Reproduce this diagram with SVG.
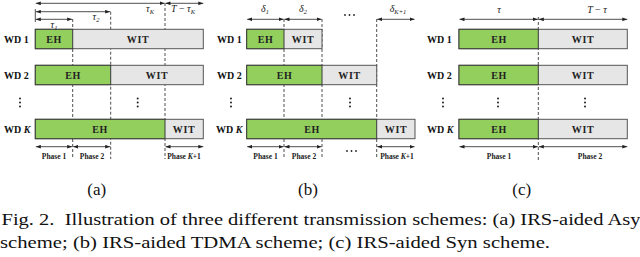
<svg xmlns="http://www.w3.org/2000/svg" width="640" height="257" viewBox="0 0 640 257">
<style>
.eh{fill:#92CF5C;stroke:#3a3a3a;stroke-width:1}
.wit{fill:#E6E6E6;stroke:#555;stroke-width:1}
.bt{font-family:"Liberation Serif",serif;font-weight:bold;font-size:10px;fill:#222;text-anchor:middle;letter-spacing:0.6px}
.wd{font-family:"Liberation Serif",serif;font-weight:bold;font-size:10px;fill:#111}
.ph{font-family:"Liberation Serif",serif;font-weight:bold;font-size:7.5px;fill:#222;text-anchor:middle}
.m{font-family:"Liberation Serif",serif;font-style:italic;font-size:10px;fill:#222;text-anchor:middle}
.sub{font-family:"Liberation Serif",serif;font-size:17px;fill:#111;text-anchor:middle}
.cap{font-family:"Liberation Serif",serif;font-size:17px;fill:#111}
.ar{stroke:#222;stroke-width:0.8;fill:none;marker-start:url(#ah);marker-end:url(#ah)}
.dl{stroke:#222;stroke-width:0.8;stroke-dasharray:3,2;fill:none}
.tk{stroke:#222;stroke-width:0.8}
.dot{fill:#222}
</style>
<defs>
<marker id="ah" viewBox="0 0 8 6" refX="8" refY="3" markerWidth="5" markerHeight="4" orient="auto-start-reverse" markerUnits="userSpaceOnUse">
<path d="M0,0 L8,3 L0,6 z" fill="#222"/>
</marker>
</defs>

<!-- connectors: dashed guides, ticks and double arrows -->
<g id="connectors">
  <line class="dl" x1="72.7" y1="19" x2="72.7" y2="159"/>
  <line class="dl" x1="110.7" y1="11.7" x2="110.7" y2="159"/>
  <line class="dl" x1="165" y1="3" x2="165" y2="159"/>
  <line class="tk" x1="35.3" y1="9" x2="35.3" y2="22"/>
  <line class="ar" x1="35.8" y1="3.3" x2="164.5" y2="3.3"/>
  <line class="ar" x1="165.5" y1="3.3" x2="203.3" y2="3.3"/>
  <line class="ar" x1="35.8" y1="11.7" x2="110.2" y2="11.7"/>
  <line class="ar" x1="35.8" y1="19.3" x2="72.2" y2="19.3"/>
  <line class="ar" x1="35.8" y1="146.7" x2="72.2" y2="146.7"/>
  <line class="ar" x1="73.2" y1="146.7" x2="110.2" y2="146.7"/>
  <line class="ar" x1="165.5" y1="146.7" x2="203.3" y2="146.7"/>

  <line class="dl" x1="284" y1="19" x2="284" y2="159"/>
  <line class="dl" x1="322" y1="19" x2="322" y2="159"/>
  <line class="dl" x1="376.7" y1="19" x2="376.7" y2="159"/>
  <line class="ar" x1="247.2" y1="19.3" x2="283.5" y2="19.3"/>
  <line class="ar" x1="284.5" y1="19.3" x2="321.5" y2="19.3"/>
  <line class="ar" x1="377.2" y1="19.3" x2="414.5" y2="19.3"/>
  <line class="ar" x1="247.2" y1="146.7" x2="283.5" y2="146.7"/>
  <line class="ar" x1="284.5" y1="146.7" x2="321.5" y2="146.7"/>
  <line class="ar" x1="377.2" y1="146.7" x2="414.5" y2="146.7"/>

  <line class="dl" x1="538.3" y1="17" x2="538.3" y2="160" stroke="#777"/>
  <line class="ar" x1="459.5" y1="19.3" x2="537.8" y2="19.3"/>
  <line class="ar" x1="538.8" y1="19.3" x2="627.3" y2="19.3"/>
  <line class="ar" x1="459.5" y1="146.7" x2="537.8" y2="146.7"/>
  <line class="ar" x1="538.8" y1="146.7" x2="627.3" y2="146.7"/>
</g>

<!-- (a) Asy scheme -->
<g id="schemeA">
  <g id="a-wd1">
    <text class="wd" x="4" y="42.5">WD 1</text>
    <rect class="wit" x="35.3" y="29.3" width="168" height="19.4"/>
    <rect class="eh" x="35.3" y="29.3" width="37.4" height="19.4"/>
    <text class="bt" x="54" y="42.5">EH</text>
    <text class="bt" x="138" y="42.5">WIT</text>
  </g>
  <g id="a-wd2">
    <text class="wd" x="4" y="78.5">WD 2</text>
    <rect class="wit" x="35.3" y="65.3" width="168" height="19.4"/>
    <rect class="eh" x="35.3" y="65.3" width="75.4" height="19.4"/>
    <text class="bt" x="73" y="78.5">EH</text>
    <text class="bt" x="157" y="78.5">WIT</text>
  </g>
  <g id="a-wdk">
    <text class="wd" x="4" y="132.5">WD <tspan font-style="italic">K</tspan></text>
    <rect class="wit" x="35.3" y="119.3" width="168" height="19.4"/>
    <rect class="eh" x="35.3" y="119.3" width="129.7" height="19.4"/>
    <text class="bt" x="100" y="132.5">EH</text>
    <text class="bt" x="184" y="132.5">WIT</text>
  </g>
  <g id="a-dots">
    <circle class="dot" cx="20" cy="98.5" r="1"/><circle class="dot" cx="20" cy="102.5" r="1"/><circle class="dot" cx="20" cy="106.5" r="1"/>
    <circle class="dot" cx="137.7" cy="98.5" r="1"/><circle class="dot" cx="137.7" cy="102.5" r="1"/><circle class="dot" cx="137.7" cy="106.5" r="1"/>
  </g>
  <g id="a-labels">
    <text class="m" x="54" y="28">τ<tspan font-size="6.5" dy="2">1</tspan></text>
    <text class="m" x="96" y="20">τ<tspan font-size="6.5" dy="2">2</tspan></text>
    <text class="m" x="150" y="12">τ<tspan font-size="6.5" dy="2">K</tspan></text>
    <text class="m" x="183" y="12">T <tspan font-style="normal">−</tspan> τ<tspan font-size="6.5" dy="2">K</tspan></text>
    <text class="ph" x="54" y="158.5">Phase 1</text>
    <text class="ph" x="92" y="158.5">Phase 2</text>
    <text class="ph" x="184" y="158.5">Phase <tspan font-style="italic">K</tspan>+1</text>
  </g>
</g>

<!-- (b) TDMA scheme -->
<g id="schemeB">
  <g id="b-wd1">
    <text class="wd" x="217" y="42.5">WD 1</text>
    <rect class="wit" x="246.7" y="29.3" width="75.3" height="19.4"/>
    <rect class="eh" x="246.7" y="29.3" width="37.3" height="19.4"/>
    <text class="bt" x="265.5" y="42.5">EH</text>
    <text class="bt" x="303" y="42.5">WIT</text>
  </g>
  <g id="b-wd2">
    <text class="wd" x="217" y="78.5">WD 2</text>
    <rect class="wit" x="246.7" y="65.3" width="130" height="19.4"/>
    <rect class="eh" x="246.7" y="65.3" width="75.3" height="19.4"/>
    <text class="bt" x="284.5" y="78.5">EH</text>
    <text class="bt" x="349.5" y="78.5">WIT</text>
  </g>
  <g id="b-wdk">
    <text class="wd" x="216" y="132.5">WD <tspan font-style="italic">K</tspan></text>
    <rect class="wit" x="246.7" y="119.3" width="168.3" height="19.4"/>
    <rect class="eh" x="246.7" y="119.3" width="130" height="19.4"/>
    <text class="bt" x="312" y="132.5">EH</text>
    <text class="bt" x="396" y="132.5">WIT</text>
  </g>
  <g id="b-dots">
    <circle class="dot" cx="231" cy="98.5" r="1"/><circle class="dot" cx="231" cy="102.5" r="1"/><circle class="dot" cx="231" cy="106.5" r="1"/>
    <circle class="dot" cx="350" cy="98.5" r="1"/><circle class="dot" cx="350" cy="102.5" r="1"/><circle class="dot" cx="350" cy="106.5" r="1"/>
    <circle class="dot" cx="345" cy="15" r="0.9"/><circle class="dot" cx="349.5" cy="15" r="0.9"/><circle class="dot" cx="354" cy="15" r="0.9"/>
    <circle class="dot" cx="347" cy="151" r="0.9"/><circle class="dot" cx="351.5" cy="151" r="0.9"/><circle class="dot" cx="356" cy="151" r="0.9"/>
  </g>
  <g id="b-labels">
    <text class="m" x="265" y="12">δ<tspan font-size="6.5" dy="2">1</tspan></text>
    <text class="m" x="303" y="12">δ<tspan font-size="6.5" dy="2">2</tspan></text>
    <text class="m" x="398" y="12">δ<tspan font-size="6.5" dy="2">K+1</tspan></text>
    <text class="ph" x="265.5" y="158.5">Phase 1</text>
    <text class="ph" x="304" y="158.5">Phase 2</text>
    <text class="ph" x="397" y="158.5">Phase <tspan font-style="italic">K</tspan>+1</text>
  </g>
</g>

<!-- (c) Syn scheme -->
<g id="schemeC">
  <g id="c-wd1">
    <text class="wd" x="427" y="42.5">WD 1</text>
    <rect class="wit" x="459" y="29.3" width="168.3" height="19.4"/>
    <rect class="eh" x="459" y="29.3" width="79.3" height="19.4"/>
    <text class="bt" x="499" y="42.5">EH</text>
    <text class="bt" x="583" y="42.5">WIT</text>
  </g>
  <g id="c-wd2">
    <text class="wd" x="427" y="78.5">WD 2</text>
    <rect class="wit" x="459" y="65.3" width="168.3" height="19.4"/>
    <rect class="eh" x="459" y="65.3" width="79.3" height="19.4"/>
    <text class="bt" x="499" y="78.5">EH</text>
    <text class="bt" x="583" y="78.5">WIT</text>
  </g>
  <g id="c-wdk">
    <text class="wd" x="427" y="132.5">WD <tspan font-style="italic">K</tspan></text>
    <rect class="wit" x="459" y="119.3" width="168.3" height="19.4"/>
    <rect class="eh" x="459" y="119.3" width="79.3" height="19.4"/>
    <text class="bt" x="499" y="132.5">EH</text>
    <text class="bt" x="583" y="132.5">WIT</text>
  </g>
  <g id="c-dots">
    <circle class="dot" cx="443" cy="98.5" r="1"/><circle class="dot" cx="443" cy="102.5" r="1"/><circle class="dot" cx="443" cy="106.5" r="1"/>
    <circle class="dot" cx="498" cy="98.5" r="1"/><circle class="dot" cx="498" cy="102.5" r="1"/><circle class="dot" cx="498" cy="106.5" r="1"/>
    <circle class="dot" cx="585" cy="98.5" r="1"/><circle class="dot" cx="585" cy="102.5" r="1"/><circle class="dot" cx="585" cy="106.5" r="1"/>
  </g>
  <g id="c-labels">
    <text class="m" x="499" y="13">τ</text>
    <text class="m" x="597" y="13">T <tspan font-style="normal">−</tspan> τ</text>
    <text class="ph" x="499" y="158.5">Phase 1</text>
    <text class="ph" x="590" y="158.5">Phase 2</text>
  </g>
</g>

<text class="sub" x="96.7" y="195">(a)</text>
<text class="sub" x="308" y="195">(b)</text>
<text class="sub" x="521.7" y="195">(c)</text>

<text class="cap" x="1.5" y="225" xml:space="preserve" textLength="639" lengthAdjust="spacingAndGlyphs">Fig. 2.  Illustration of three different transmission schemes: (a) IRS-aided Asy</text>
<text class="cap" x="0" y="247.5" textLength="550" lengthAdjust="spacingAndGlyphs">scheme; (b) IRS-aided TDMA scheme; (c) IRS-aided Syn scheme.</text>
</svg>
